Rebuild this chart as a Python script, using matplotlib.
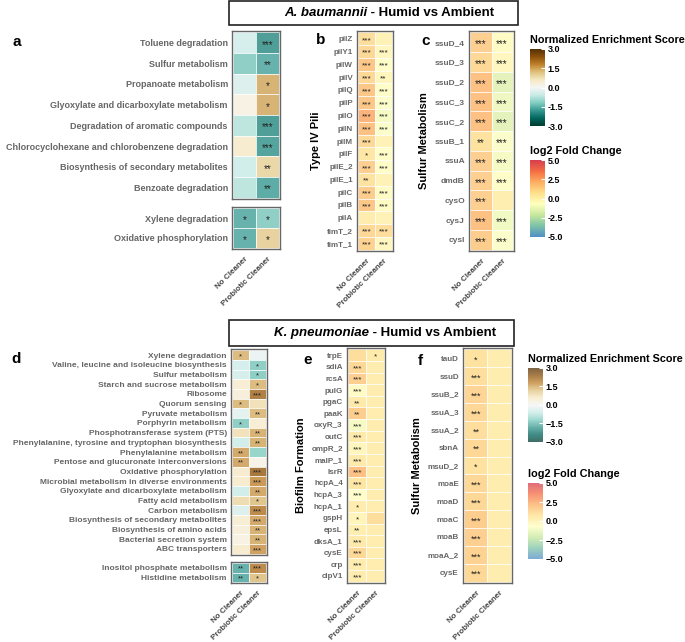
import matplotlib
matplotlib.use("Agg")
import matplotlib.pyplot as plt
import numpy as np
from matplotlib.colors import LinearSegmentedColormap, Normalize
from matplotlib.patches import Rectangle
import matplotlib.cm as cm

plt.rcParams['font.family'] = ['Liberation Sans', 'DejaVu Sans']

# ---------------- data ----------------
cols = ['No Cleaner', 'Probiotic Cleaner']

# panel a: A. baumannii pathways (NES)
a_terms = ['Toluene degradation', 'Sulfur metabolism', 'Propanoate metabolism',
           'Glyoxylate and dicarboxylate metabolism', 'Degradation of aromatic compounds',
           'Chlorocyclohexane and chlorobenzene degradation',
           'Biosynthesis of secondary metabolites', 'Benzoate degradation',
           'Xylene degradation', 'Oxidative phosphorylation']
a_nc = [-0.5, -1.3, -0.4, 0.3, -0.8, 0.6, -0.6, -0.8, -1.7, -1.7]
a_pc = [-2.0, -1.7, 1.5, 1.5, -2.0, -1.9, 1.0, -1.8, -1.3, 1.1]
a_sig_nc = ['', '', '', '', '', '', '', '', '*', '*']
a_sig_pc = ['***', '**', '*', '*', '***', '***', '**', '**', '*', '*']
a_split = 8

# panel b: Type IV pili (log2 FC)
b_genes = ['pilZ', 'pilY1', 'pilW', 'pilV', 'pilQ', 'pilP', 'pilO', 'pilN', 'pilM',
           'pilF', 'pilE_2', 'pilE_1', 'pilC', 'pilB', 'pilA', 'fimT_2', 'fimT_1']
b_nc = [1.0, 1.2, 1.8, 1.2, 1.8, 1.8, 2.4, 2.0, 1.2, 0.6, 1.5, 0.8, 1.6, 1.8, 0.3, 1.2, 1.4]
b_pc = [0.0, -0.3, -0.6, -0.2, -0.6, -0.8, -1.0, -0.8, 0.0, -0.6, -0.6, 0.0, -0.5, -0.5, 0.0, 1.0, -0.3]
b_sig_nc = ['***', '***', '***', '***', '***', '***', '***', '***', '***', '*', '***', '**',
            '***', '***', '', '***', '***']
b_sig_pc = ['', '***', '***', '**', '***', '***', '***', '***', '', '***', '***', '',
            '***', '***', '', '***', '***']

# panel c: A. baumannii sulfur metabolism (log2 FC)
c_genes = ['ssuD_4', 'ssuD_3', 'ssuD_2', 'ssuC_3', 'ssuC_2', 'ssuB_1', 'ssuA', 'dmdB',
           'cysO', 'cysJ', 'cysI']
c_nc = [1.5, 1.2, 2.0, 2.0, 2.0, 0.8, 1.5, 1.5, 1.5, 2.0, 1.6]
c_pc = [-0.5, -0.3, -1.6, -1.2, -1.6, -0.8, -1.0, -0.6, 0.2, -1.1, -0.8]
c_sig_nc = ['***', '***', '***', '***', '***', '**', '***', '***', '***', '***', '***']
c_sig_pc = ['***', '***', '***', '***', '***', '***', '***', '***', '', '***', '***']

# panel d: K. pneumoniae pathways (NES)
d_terms = ['Xylene degradation', 'Valine, leucine and isoleucine biosynthesis',
           'Sulfur metabolism', 'Starch and sucrose metabolism', 'Ribosome',
           'Quorum sensing', 'Pyruvate metabolism', 'Porphyrin metabolism',
           'Phosphotransferase system (PTS)',
           'Phenylalanine, tyrosine and tryptophan biosynthesis',
           'Phenylalanine metabolism', 'Pentose and glucuronate interconversions',
           'Oxidative phosphorylation', 'Microbial metabolism in diverse environments',
           'Glyoxylate and dicarboxylate metabolism', 'Fatty acid metabolism',
           'Carbon metabolism', 'Biosynthesis of secondary metabolites',
           'Biosynthesis of amino acids', 'Bacterial secretion system', 'ABC transporters',
           'Inositol phosphate metabolism', 'Histidine metabolism']
d_nc = [1.4, -0.5, -0.5, 0.5, 0.4, 1.4, -0.3, -1.3, 0.8, -0.6, 1.6, 1.6, 0.6, 0.6,
        -0.6, 0.9, -0.4, 0.5, 0.4, 0.3, 0.6, -1.7, -1.7]
d_pc = [-0.2, -1.3, -1.3, 1.4, 2.2, 0.8, 1.4, 0.5, 1.5, 1.5, -1.2, 0.2, 2.3, 1.8,
        1.6, 1.3, 2.0, 1.6, 1.5, 1.5, 1.7, 2.0, 1.3]
d_sig_nc = ['*', '', '', '', '', '*', '', '*', '', '', '**', '**', '', '', '', '', '',
            '', '', '', '', '**', '**']
d_sig_pc = ['', '*', '*', '*', '***', '', '**', '', '**', '**', '', '', '***', '***',
            '**', '*', '***', '***', '**', '**', '***', '***', '*']
d_split = 21

# panel e: biofilm formation (log2 FC)
e_genes = ['trpE', 'sdiA', 'rcsA', 'pulG', 'pgaC', 'paaK', 'oxyR_3', 'outC', 'ompR_2',
           'malP_1', 'lsrR', 'hcpA_4', 'hcpA_3', 'hcpA_1', 'gspH', 'epsL', 'dksA_1',
           'cysE', 'crp', 'clpV1']
e_nc = [1.0, 1.2, 1.5, -0.5, 0.4, 1.6, -1.0, 0.4, -0.2, 0.4, 2.0, 0.6, -0.7, 0.3,
        -0.1, 0.2, 0.4, 1.2, 0.3, 0.3]
e_pc = [0.4, 0.3, 0.3, 0.3, 0.3, 0.3, 0.3, 0.3, 0.3, 0.3, 0.3, 0.3, 0.3, 0.3,
        1.0, 0.3, 0.3, 0.3, 0.3, 0.3]
e_sig_nc = ['', '***', '***', '***', '**', '**', '***', '***', '***', '***', '***', '***',
            '***', '*', '*', '**', '***', '***', '***', '***']
e_sig_pc = ['*'] + [''] * 19

# panel f: K. pneumoniae sulfur metabolism (log2 FC)
f_genes = ['tauD', 'ssuD', 'ssuB_2', 'ssuA_3', 'ssuA_2', 'sbnA', 'msuD_2', 'moaE',
           'moaD', 'moaC', 'moaB', 'moaA_2', 'cysE']
f_nc = [0.8, 1.0, 1.3, 1.2, 1.0, 1.2, 0.8, 1.2, 1.2, 1.6, 1.5, 1.4, 1.2]
f_pc = [0.3] * 13
f_sig_nc = ['*', '***', '***', '***', '**', '**', '*', '***', '***', '***', '***', '***', '***']
f_sig_pc = [''] * 13

# ---------------- colour scales ----------------
nes_cmap = plt.get_cmap('BrBG_r')
nes_norm = Normalize(-3, 3)
lfc_cmap = LinearSegmentedColormap.from_list(
    'lfc', ['#4f8fc6', '#7cc2a8', '#c6e89c', '#ffffbf', '#fee08b', '#fdae61', '#f46d43', '#d53e4f'])
lfc_norm = Normalize(-5, 5)

W, H = 685, 642
fig = plt.figure(figsize=(W / 100, H / 100), dpi=100)


def px_axes(x0, y0, x1, y1):
    return fig.add_axes([x0 / W, 1 - y1 / H, (x1 - x0) / W, (y1 - y0) / H])


def heat(box, labels, nc, pc, snc, spc, cmap, norm, fs=6, sfs=7, ylabel=None, xt=True):
    ax = px_axes(*box)
    vals = np.column_stack([nc, pc])
    ax.pcolormesh(np.arange(3) - 0.5, np.arange(len(labels) + 1) - 0.5, vals,
                  cmap=cmap, norm=norm, edgecolors='white', linewidth=0.5, alpha=0.8)
    for i in range(len(labels)):
        for j, s in enumerate([snc[i], spc[i]]):
            if s:
                ax.annotate(s, (j, i), xytext=(0, -0.22 * sfs), textcoords='offset points',
                            ha='center', va='center', fontsize=sfs, color='#222222')
    ax.set_xlim(-0.56, 1.56)
    pad = 0.06 * max(1, len(labels) / 10)
    ax.set_ylim(len(labels) - 0.5 + pad, -0.5 - pad)
    ax.set_yticks(range(len(labels)))
    ax.set_yticklabels(labels, fontsize=fs, color='#666666', fontweight='bold')
    ax.tick_params(length=0, pad=3)
    if xt:
        ax.set_xticks([0, 1])
        ax.set_xticklabels(cols, rotation=45, ha='right', rotation_mode='anchor',
                           fontsize=5.8, color='#444444', fontweight='bold')
        ax.tick_params(axis='x', pad=5)
    else:
        ax.set_xticks([])
    for s in ax.spines.values():
        s.set_color('#666666')
        s.set_linewidth(1.0)
    if ylabel:
        ax.set_ylabel(ylabel, fontsize=8, fontweight='bold')
    return ax


# ---- top half: A. baumannii ----
heat((232, 31, 280, 199), a_terms[:a_split], a_nc[:a_split], a_pc[:a_split],
     a_sig_nc[:a_split], a_sig_pc[:a_split], nes_cmap, nes_norm, fs=6.5, xt=False)
heat((232, 207, 280, 249), a_terms[a_split:], a_nc[a_split:], a_pc[a_split:],
     a_sig_nc[a_split:], a_sig_pc[a_split:], nes_cmap, nes_norm, fs=6.5)
heat((357, 31, 393, 251), b_genes, b_nc, b_pc, b_sig_nc, b_sig_pc, lfc_cmap, lfc_norm,
     fs=5.8, sfs=6, ylabel='Type IV Pili')
heat((469, 31, 514, 251), c_genes, c_nc, c_pc, c_sig_nc, c_sig_pc, lfc_cmap, lfc_norm,
     fs=6, sfs=7, ylabel='Sulfur Metabolism')

# ---- bottom half: K. pneumoniae ----
heat((231, 349, 267, 555), d_terms[:d_split], d_nc[:d_split], d_pc[:d_split],
     d_sig_nc[:d_split], d_sig_pc[:d_split], nes_cmap, nes_norm, fs=6.0, sfs=5.5, xt=False)
heat((231, 562, 267, 583), d_terms[d_split:], d_nc[d_split:], d_pc[d_split:],
     d_sig_nc[d_split:], d_sig_pc[d_split:], nes_cmap, nes_norm, fs=6.0, sfs=5.5)
heat((347, 348, 385, 583), e_genes, e_nc, e_pc, e_sig_nc, e_sig_pc, lfc_cmap, lfc_norm,
     fs=5.8, sfs=5.8, ylabel='Biofilm Formation')
heat((463, 348, 512, 583), f_genes, f_nc, f_pc, f_sig_nc, f_sig_pc, lfc_cmap, lfc_norm,
     fs=5.8, sfs=6.5, ylabel='Sulfur Metabolism')

# panel letters
for lab, x, y in [('a', 12, 42), ('b', 316, 40), ('c', 421, 41),
                  ('d', 11, 359), ('e', 303, 360), ('f', 418, 361)]:
    fig.text(x / W, 1 - y / H, lab, fontsize=11, fontweight='bold', va='center')

# title boxes
for (x0, y0, x1, y1), sp, split in [((229, 1, 518, 25), 'A. baumannii', 367),
                                    ((229, 320, 514, 346), 'K. pneumoniae', 369)]:
    fig.add_artist(Rectangle((x0 / W, 1 - y1 / H), (x1 - x0) / W, (y1 - y0) / H,
                             transform=fig.transFigure, fill=False, lw=1.2, ec='#222222'))
    yc = 1 - (y0 + y1) / 2 / H
    fig.text(split / W, yc, sp, style='italic', fontweight='bold', fontsize=9.5,
             ha='right', va='center')
    fig.text(split / W, yc, ' - Humid vs Ambient', fontweight='bold', fontsize=9.5,
             ha='left', va='center')


def cbar(box, cmap, norm, ticks, title, minus='-', alpha=1.0):
    cax = px_axes(*box)
    cb = fig.colorbar(cm.ScalarMappable(norm=norm, cmap=cmap), cax=cax)
    cb.solids.set_alpha(alpha)
    cb.outline.set_visible(False)
    cb.set_ticks(ticks)
    cb.set_ticklabels([('%.1f' % t).replace('-', minus) for t in ticks])
    cax.tick_params(length=3, width=0.8, color='white', direction='in', pad=2,
                    labelsize=6.5)
    for t in cax.get_yticklabels():
        t.set_fontweight('bold')
    fig.text(box[0] / W, 1 - (box[1] - 9) / H, title, fontsize=7.8, fontweight='bold',
             va='center')


cbar((530, 49, 545, 126), nes_cmap, nes_norm, [-3, -1.5, 0, 1.5, 3], 'Normalized Enrichment Score')
cbar((530, 160, 545, 237), lfc_cmap, lfc_norm, [-5, -2.5, 0, 2.5, 5], 'log2 Fold Change')
cbar((528, 368, 543, 442), nes_cmap, nes_norm, [-3, -1.5, 0, 1.5, 3], 'Normalized Enrichment Score',
     minus='\u2212', alpha=0.75)
cbar((528, 483, 543, 559), lfc_cmap, lfc_norm, [-5, -2.5, 0, 2.5, 5], 'log2 Fold Change',
     minus='\u2212', alpha=0.75)

fig.savefig('out.png', dpi=100)
